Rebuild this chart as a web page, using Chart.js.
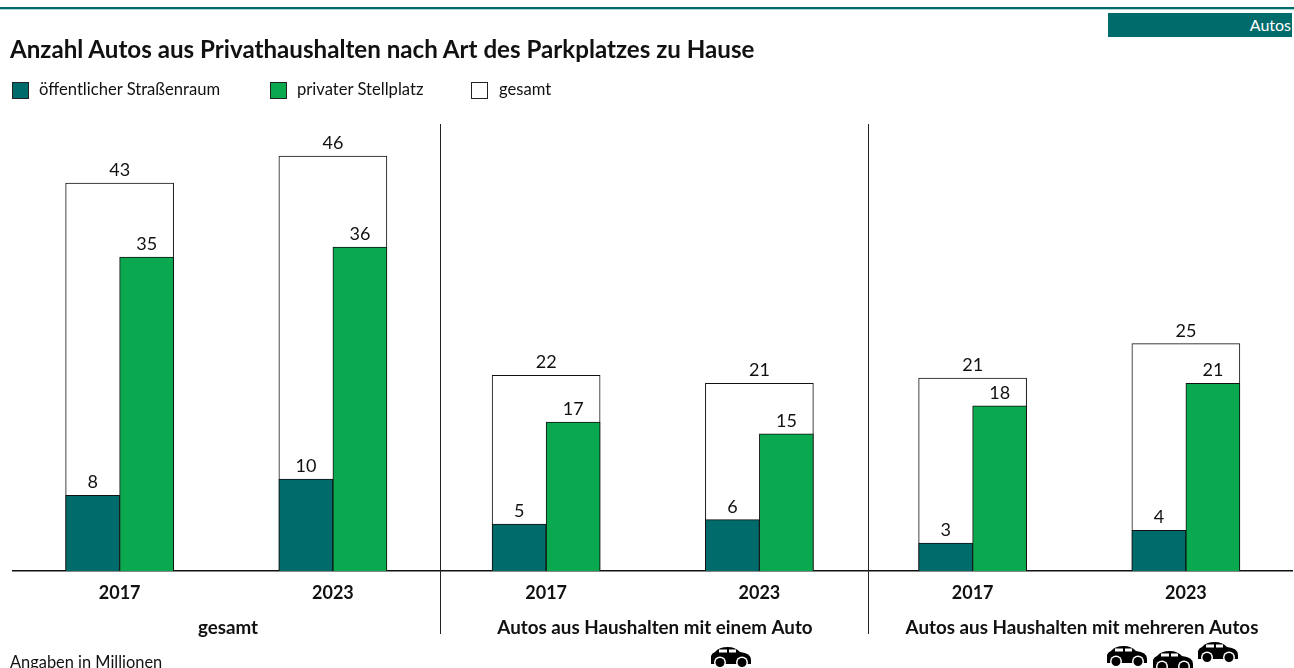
<!DOCTYPE html>
<html lang="de">
<head>
<meta charset="utf-8">
<title>Anzahl Autos nach Art des Parkplatzes</title>
<script src="https://cdn.jsdelivr.net/npm/chart.js@4"></script>
<style>
  html, body { margin: 0; padding: 0; background: #fff; overflow: hidden; }
  body { width: 1294px; height: 668px; position: relative; font-family: Lato, sans-serif; color: #111; }
  canvas { position: absolute; left: 0; top: 0; }
  .rule { position: absolute; left: 0; top: 7px; width: 1294px; height: 2px; background: #006b6b; border-bottom: 1px solid #a9d5d5; }
  .tag { position: absolute; left: 1108px; top: 13px; width: 183px; padding-right: 1px; height: 24px; line-height: 24px; background: #006b6b; color: #fff; text-align: right; font-size: 16px; }
  h1 { position: absolute; left: 10px; top: 34px; margin: 0; font-size: 24.15px; line-height: 30px; font-weight: 700; white-space: nowrap; }
  .legend span { position: absolute; top: 79px; font-size: 16.6px; line-height: 20px; white-space: nowrap; }
  .legend i { position: absolute; top: 82px; width: 15px; height: 15px; border: 1px solid #222; }
  .note { position: absolute; left: 10px; top: 652px; font-size: 16.4px; line-height: 20px; white-space: nowrap; }
</style>
</head>
<body>
<canvas id="miCanva" width="1294" height="668"></canvas>
<div class="rule"></div>
<div class="tag">Autos</div>
<h1>Anzahl Autos aus Privathaushalten nach Art des Parkplatzes zu Hause</h1>
<div class="legend" id="legend"></div>
<div class="note">Angaben in Millionen</div>
<script>
const jahre = ['2017', '2023', '2017', '2023', '2017', '2023'];
const gruppen = ['gesamt', 'Autos aus Haushalten mit einem Auto', 'Autos aus Haushalten mit mehreren Autos'];
const strasse = [8.4, 10.2, 5.2, 5.7, 3.1, 4.5];
const stellplatz = [34.8, 35.9, 16.5, 15.2, 18.3, 20.8];
const gesamt = [43, 46, 21.7, 20.8, 21.4, 25.2];
const strasseLabels = [8, 10, 5, 6, 3, 4];
const stellplatzLabels = [35, 36, 17, 15, 18, 21];
const gesamtLabels = [43, 46, 22, 21, 21, 25];

const TEAL = '#006b6b';
const GREEN = '#0aa84f';
const FONT = 'Lato, sans-serif';

function auto(ctx, x, y) {
  ctx.save();
  ctx.translate(x, y);
  ctx.fillStyle = '#000';
  ctx.beginPath();
  ctx.moveTo(0, 17);
  ctx.lineTo(0, 9);
  ctx.quadraticCurveTo(1, 6, 4, 5);
  ctx.quadraticCurveTo(8, 0, 17, 0);
  ctx.quadraticCurveTo(24, 0, 29, 5);
  ctx.quadraticCurveTo(40, 6, 40, 13);
  ctx.lineTo(40, 17);
  ctx.closePath();
  ctx.fill();
  ctx.fillStyle = '#fff';
  ctx.fillRect(8, 2.5, 8, 3);
  ctx.fillRect(18, 2.5, 7, 3);
  [9, 31].forEach((cx) => {
    ctx.fillStyle = '#fff';
    ctx.beginPath();
    ctx.arc(cx, 15.5, 6, 0, Math.PI * 2);
    ctx.fill();
    ctx.fillStyle = '#000';
    ctx.beginPath();
    ctx.arc(cx, 15.5, 4.5, 0, Math.PI * 2);
    ctx.fill();
  });
  ctx.restore();
}

const beschriftung = {
  id: 'beschriftung',
  afterDatasetsDraw(chart) {
    const { ctx } = chart;
    ctx.save();
    ctx.fillStyle = '#111';
    ctx.textAlign = 'center';
    ctx.textBaseline = 'alphabetic';
    ctx.font = '18px ' + FONT;
    [strasseLabels, stellplatzLabels, gesamtLabels].forEach((labels, i) => {
      chart.getDatasetMeta(i).data.forEach((bar, j) => {
        ctx.fillText(labels[j], bar.x, bar.y - 7);
      });
    });
    ctx.font = 'bold 18.8px ' + FONT;
    [228, 655, 1082].forEach((x, i) => ctx.fillText(gruppen[i], x, 634));

    // Trennlinien zwischen den Gruppen
    ctx.strokeStyle = '#222';
    ctx.lineWidth = 1;
    [440.5, 868.5].forEach((x) => {
      ctx.beginPath();
      ctx.moveTo(x, 124);
      ctx.lineTo(x, 634);
      ctx.stroke();
    });

    auto(ctx, 711, 647);
    auto(ctx, 1107, 646);
    auto(ctx, 1153, 651);
    auto(ctx, 1198, 642);
    ctx.restore();
  }
};

const chart = new Chart(document.getElementById('miCanva'), {
  type: 'bar',
  data: {
    labels: jahre,
    datasets: [
      { label: 'öffentlicher Straßenraum', data: strasse, backgroundColor: TEAL, borderColor: '#111', borderWidth: 1, barThickness: 54, order: 1 },
      { label: 'privater Stellplatz', data: stellplatz, backgroundColor: GREEN, borderColor: '#111', borderWidth: 1, barThickness: 54, order: 1 },
      { label: 'gesamt', data: gesamt, backgroundColor: '#fff', borderColor: '#111', borderWidth: 1, barThickness: 108, grouped: false, order: 2 }
    ]
  },
  options: {
    responsive: false,
    animation: false,
    layout: { padding: { left: 13, right: 1.5, top: 120, bottom: 0 } },
    plugins: {
      legend: { display: false },
      title: { display: false },
      tooltip: { enabled: false }
    },
    scales: {
      x: {
        grid: { display: false },
        border: { color: '#111', width: 1.5 },
        afterFit(scale) { scale.height = 97; },
        ticks: { color: '#111', padding: 3, maxRotation: 0, autoSkip: false, font: { family: FONT, size: 18, weight: 'bold' } }
      },
      y: { display: false, min: 0, max: 50 }
    }
  },
  plugins: [beschriftung]
});

// Legende als HTML aus den Datensaetzen
const legend = document.getElementById('legend');
const swatchX = [12, 270, 471];
const textX = [39, 297, 499];
chart.data.datasets.forEach((d, i) => {
  const box = document.createElement('i');
  box.style.left = swatchX[i] + 'px';
  box.style.background = d.backgroundColor;
  const txt = document.createElement('span');
  txt.style.left = textX[i] + 'px';
  txt.textContent = d.label;
  legend.append(box, txt);
});
</script>
</body>
</html>
